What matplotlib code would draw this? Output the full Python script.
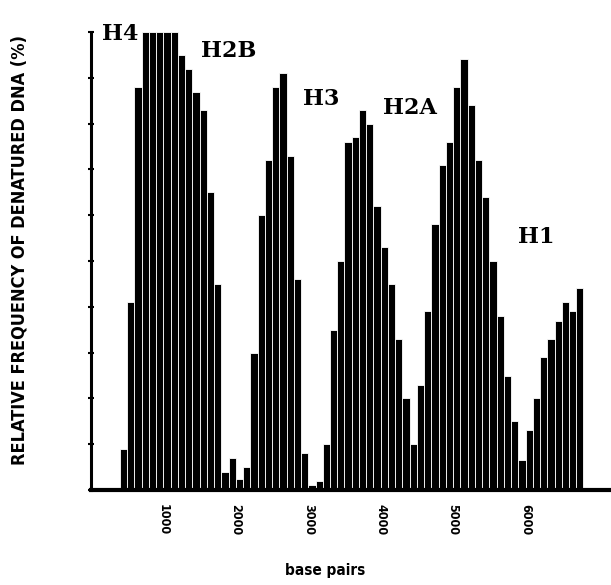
import matplotlib.pyplot as plt

# histogram bins (base pairs, left edge, 100 bp wide) and relative frequency (%)
bin_start = list(range(400, 6800, 100))
freq = [
    9, 41, 88, 100, 100, 100, 100, 100, 95, 92,      # 400-1300
    87, 83, 65, 45, 4, 7, 2.5, 5, 30, 60,            # 1400-2300
    72, 88, 91, 73, 46, 8, 1, 2, 10, 35,             # 2400-3300
    50, 76, 77, 83, 80, 62, 53, 45, 33, 20,          # 3400-4300
    10, 23, 39, 58, 71, 76, 88, 94, 84, 72,          # 4400-5300
    64, 50, 38, 25, 15, 6.5, 13, 20, 29, 33,         # 5400-6300
    37, 41, 39, 44,                                  # 6400-6700
]
tick_values = [1000, 2000, 3000, 4000, 5000, 6000]
tick_labels = ["1000", "2000", "3000", "4000", "5000", "6000"]
peak_labels = ["H4", "H2B", "H3", "H2A", "H1"]
peak_label_pos = [(150, 98.3), (1520, 94.5), (2930, 84), (4030, 82), (5900, 54)]

fig = plt.figure(figsize=(6.11, 5.85), dpi=100)
ax = fig.add_axes([91 / 611, 95 / 585, 520 / 611, 458 / 585])

ax.bar(bin_start, freq, width=100, align="edge", color="black",
       edgecolor="white", linewidth=0.6)

ax.set_xlim(0, 7180)
ax.set_ylim(0, 100)

for side in ("top", "right"):
    ax.spines[side].set_visible(False)
ax.spines["left"].set_linewidth(2.2)
ax.spines["bottom"].set_linewidth(3)

ax.set_yticks(range(0, 101, 10))
ax.set_yticklabels([])
ax.tick_params(axis="y", direction="inout", length=5, width=1.5)

ax.set_xticks(tick_values)
ax.set_xticklabels(tick_labels, rotation=-90, fontsize=9, fontweight="bold",
                   fontstretch="condensed")
ax.tick_params(axis="x", length=0, pad=10)

ax.set_ylabel("RELATIVE FREQUENCY OF DENATURED DNA (%)", fontsize=13,
              fontweight="bold", fontstretch="condensed")
ax.yaxis.set_label_coords(-0.12, 0.525)
ax.set_xlabel("base pairs", fontsize=11, fontweight="bold",
              fontstretch="condensed")
ax.xaxis.set_label_coords(0.45, -0.16)

for name, (x, y) in zip(peak_labels, peak_label_pos):
    ax.text(x, y, name, family="DejaVu Serif", fontsize=16,
            fontweight="bold", ha="left", va="baseline", clip_on=False)

fig.savefig("out.png", dpi=100)
